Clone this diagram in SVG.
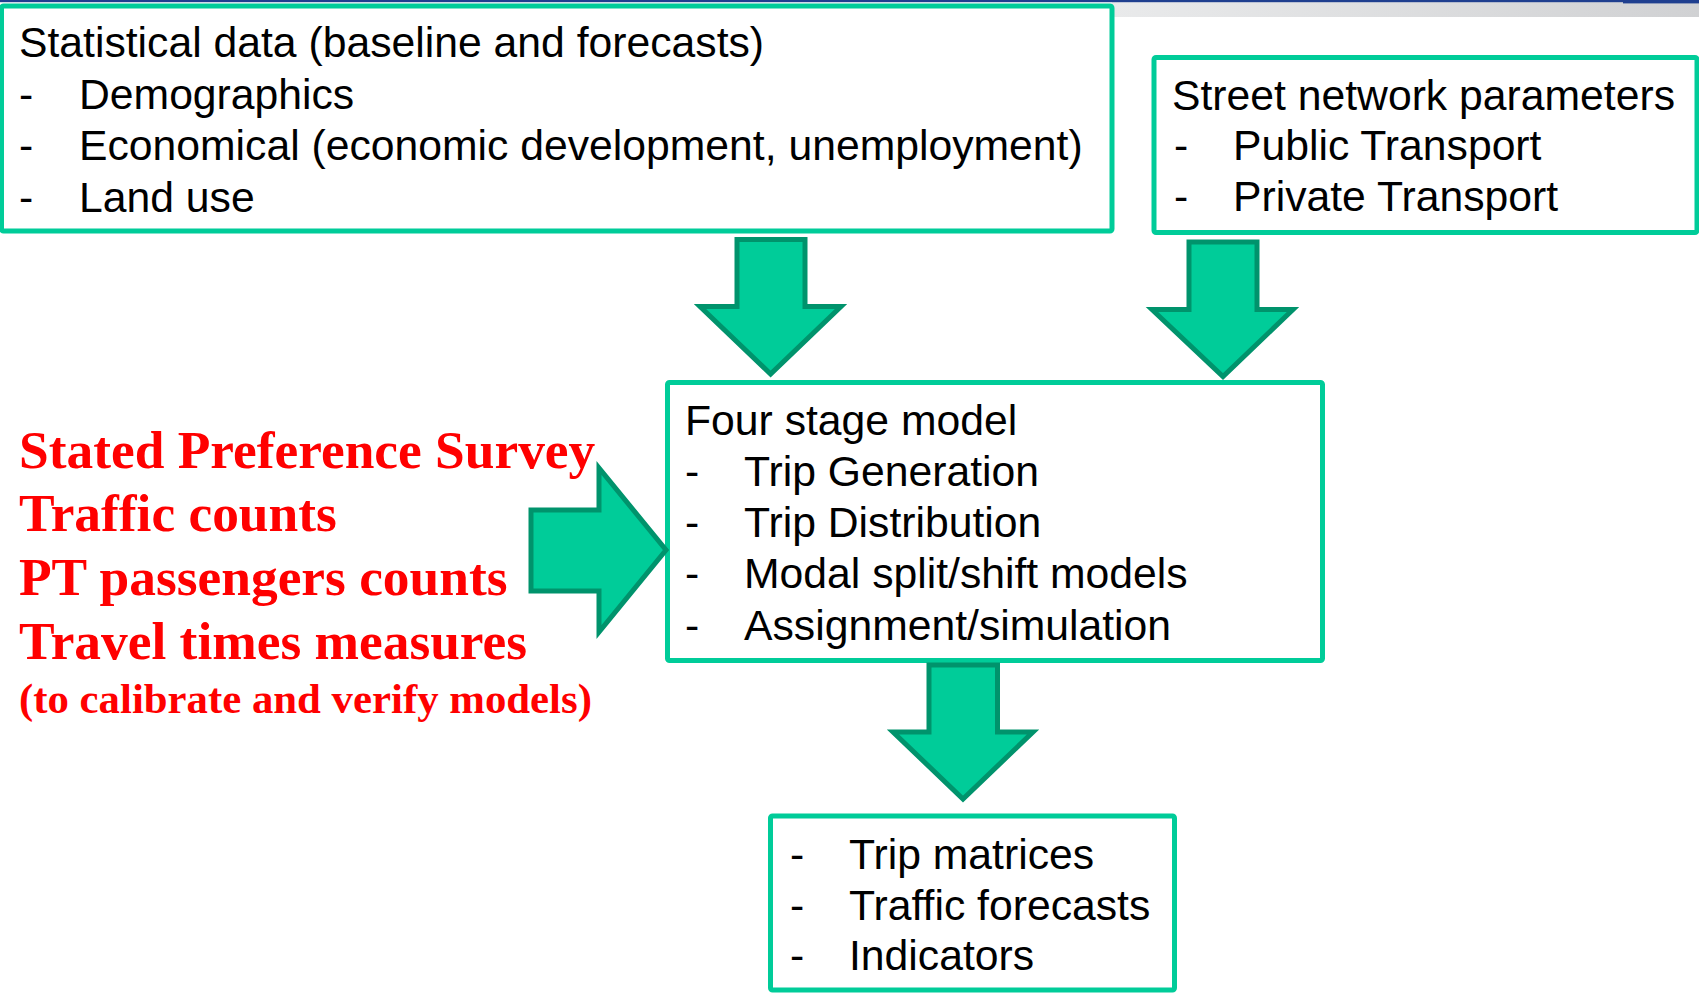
<svg xmlns="http://www.w3.org/2000/svg" width="1699" height="995" viewBox="0 0 1699 995">
  <defs>
    <linearGradient id="bandGrad" x1="0" y1="0" x2="1" y2="0">
      <stop offset="0" stop-color="#e9eaeb"/>
      <stop offset="1" stop-color="#d0d1d3"/>
    </linearGradient>
    <style>
      .box { fill: #ffffff; stroke: #00cc99; stroke-width: 5; }
      .arrow { fill: #00cc99; stroke: #00936c; stroke-width: 5; stroke-linejoin: miter; }
      .txt { font-family: "Liberation Sans", Arial, sans-serif; font-size: 42.7px; fill: #000000; }
      .red { font-family: "Liberation Serif", "Times New Roman", serif; font-weight: bold; fill: #ff0000; }
    </style>
  </defs>

  <rect x="0" y="0" width="1699" height="995" fill="#ffffff"/>

  <!-- header strip -->
  <rect x="1112" y="2" width="587" height="15" fill="url(#bandGrad)"/>
  <rect x="0" y="0" width="1699" height="2.2" fill="#1f3f8f"/>
  <rect x="1623" y="0" width="76" height="3.4" fill="#1f3f8f"/>

  <!-- statistical data -->
  <g id="node-statistical">
    <rect class="box" x="1.5" y="6" width="1110.5" height="225" rx="2"/>
    <text class="txt" x="19" y="57">Statistical data (baseline and forecasts)</text>
    <text class="txt" x="19" y="108.5">-</text>
    <text class="txt" x="79" y="108.5">Demographics</text>
    <text class="txt" x="19" y="159.5">-</text>
    <text class="txt" x="79" y="159.5">Economical (economic development, unemployment)</text>
    <text class="txt" x="19" y="211.5">-</text>
    <text class="txt" x="79" y="211.5">Land use</text>
  </g>

  <!-- street network -->
  <g id="node-street">
    <rect class="box" x="1154" y="57.5" width="543" height="175" rx="2"/>
    <text class="txt" x="1172" y="109.5">Street network parameters</text>
    <text class="txt" x="1174" y="160">-</text>
    <text class="txt" x="1233" y="160">Public Transport</text>
    <text class="txt" x="1174" y="210.5">-</text>
    <text class="txt" x="1233" y="210.5">Private Transport</text>
  </g>

  <!-- four stage model -->
  <g id="node-four-stage">
    <rect class="box" x="667.5" y="382.5" width="655" height="278" rx="2"/>
    <text class="txt" x="685" y="434.5">Four stage model</text>
    <text class="txt" x="685" y="486">-</text>
    <text class="txt" x="744" y="486">Trip Generation</text>
    <text class="txt" x="685" y="536.5">-</text>
    <text class="txt" x="744" y="536.5">Trip Distribution</text>
    <text class="txt" x="685" y="588">-</text>
    <text class="txt" x="744" y="588">Modal split/shift models</text>
    <text class="txt" x="685" y="639.5">-</text>
    <text class="txt" x="744" y="639.5">Assignment/simulation</text>
  </g>

  <!-- outputs -->
  <g id="node-outputs">
    <rect class="box" x="770.5" y="816" width="404" height="174" rx="2"/>
    <text class="txt" x="790" y="869">-</text>
    <text class="txt" x="849" y="869">Trip matrices</text>
    <text class="txt" x="790" y="919.5">-</text>
    <text class="txt" x="849" y="919.5">Traffic forecasts</text>
    <text class="txt" x="790" y="969.5">-</text>
    <text class="txt" x="849" y="969.5">Indicators</text>
  </g>

  <!-- calibration inputs -->
  <g id="node-calibration">
    <text class="red" x="19" y="468" font-size="53.4">Stated Preference Survey</text>
    <text class="red" x="19" y="531" font-size="53.4">Traffic counts</text>
    <text class="red" x="19" y="595" font-size="53.4">PT passengers counts</text>
    <text class="red" x="19" y="659" font-size="53.4">Travel times measures</text>
    <text class="red" x="19" y="713" font-size="42.8">(to calibrate and verify models)</text>
  </g>

  <!-- block arrows -->
  <g id="connectors">
    <path class="arrow" d="M737,239.5 L805,239.5 L805,306.5 L841,306.5 L770.6,374 L700,306.5 L737,306.5 Z"/>
    <path class="arrow" d="M1189,242 L1257,242 L1257,309.5 L1293,309.5 L1223,376.5 L1152,309.5 L1189,309.5 Z"/>
    <path class="arrow" d="M929,665 L997.5,665 L997.5,732 L1033,732 L963,799 L893,732 L929,732 Z"/>
    <path class="arrow" d="M531,510 L599,510 L599,468 L666,550 L599,632 L599,591 L531,591 Z"/>
  </g>
</svg>
